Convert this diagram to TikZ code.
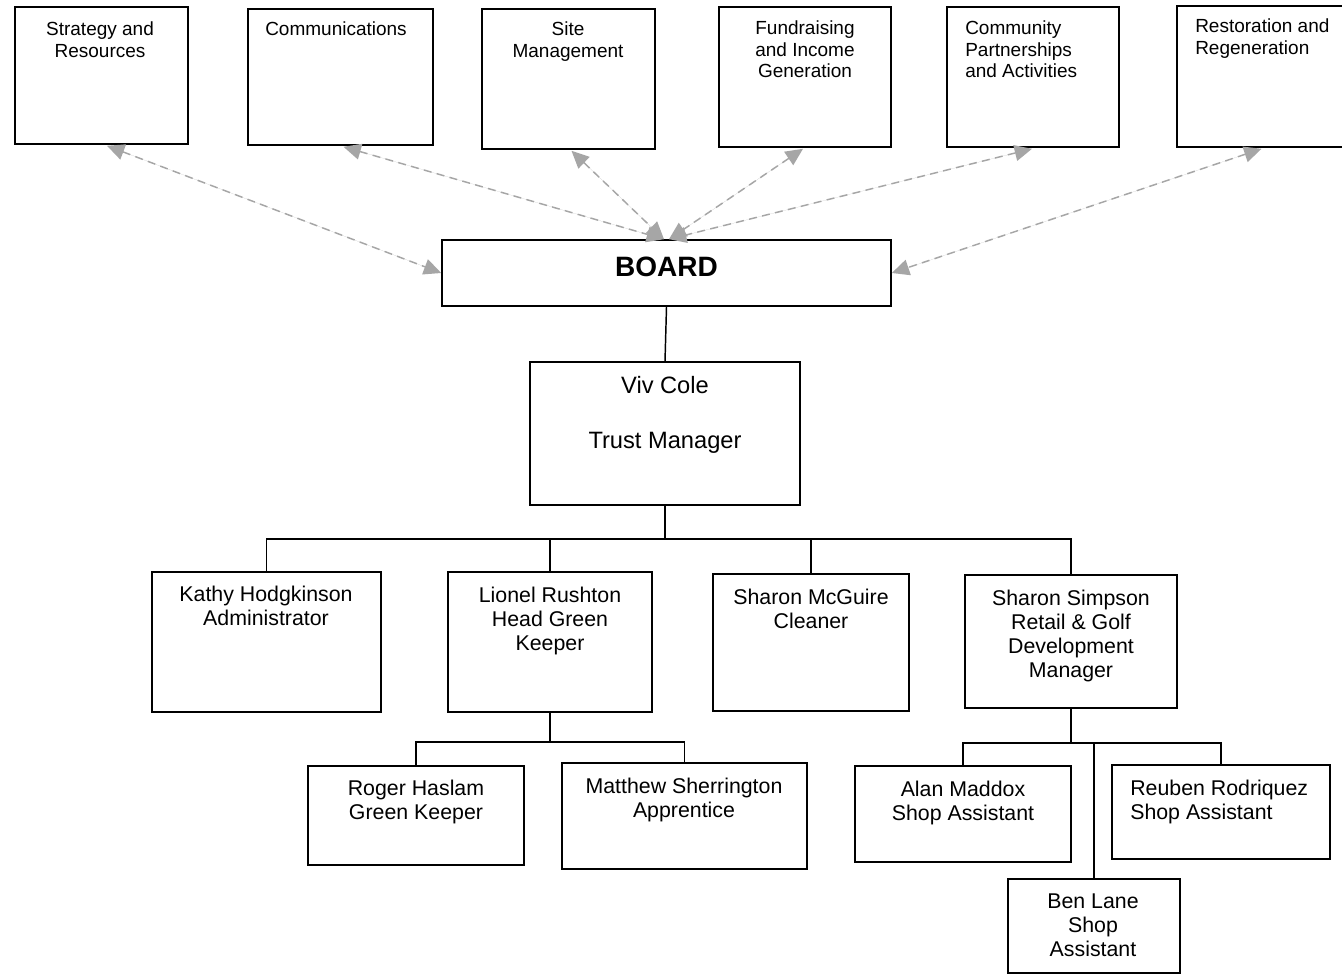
\documentclass[tikz,border=0pt]{standalone}
\usepackage{fontspec}
\setmainfont{Liberation Sans}
\usetikzlibrary{arrows.meta,fit,calc}
\definecolor{arrgray}{HTML}{A6A6A6}
\begin{document}
\begin{tikzpicture}[x=0.75pt,y=-0.75pt,
  orgbox/.style={draw=black, line width=1.2pt, inner sep=0pt, fill=white},
  link/.style={draw=black, line width=1.1pt},
  dual/.style={draw=arrgray, fill=arrgray, line width=1.1pt, dash pattern=on 6pt off 4pt,
    {Triangle[length=13pt,width=12pt]}-{Triangle[length=13pt,width=12pt]}},
  toptext/.style={font=\fontsize{14.25pt}{16.1pt}\selectfont, inner sep=0pt, align=center, anchor=north},
  topleft/.style={font=\fontsize{14.25pt}{16.1pt}\selectfont, inner sep=0pt, align=left, anchor=north west},
  rowtext/.style={font=\fontsize{16pt}{18pt}\selectfont, inner sep=0pt, align=center, anchor=north},
  rowleft/.style={font=\fontsize{16pt}{18pt}\selectfont, inner sep=0pt, align=left, anchor=north west},
  vivtext/.style={font=\fontsize{17.75pt}{41.25pt}\selectfont, inner sep=0pt, align=center, anchor=north},
  boardtext/.style={font=\fontsize{21pt}{25pt}\selectfont\bfseries, inner sep=0pt, anchor=base}
]
\useasboundingbox (0,0) rectangle (1342,977);
\fill[white] (0,0) rectangle (1342,977);

% top row boxes
\node[orgbox, fit={(15,7) (188,144)}] (strat) {};
\node[orgbox, fit={(248,9) (433,145)}] (comm) {};
\node[orgbox, fit={(482,9) (655,149)}] (site) {};
\node[orgbox, fit={(719,7) (891,147)}] (fund) {};
\node[orgbox, fit={(947,7) (1119,147)}] (commun) {};
\node[orgbox, fit={(1177,6) (1346,147)}] (resto) {};

\node[toptext] (stratT) at (100,21.9) {Strategy and\\Resources};
\node[toptext] (commT) at (336,21.9) {Communications};
\node[toptext] (siteT) at (568,21.9) {Site\\Management};
\node[toptext] (fundT) at (805,20.9) {Fundraising\\and Income\\Generation};
\node[topleft] (communT) at (965,20.9) {Community\\Partnerships\\and Activities};
\node[topleft] (restoT) at (1195,18.9) {Restoration and\\Regeneration};

% board and manager
\node[orgbox, fit={(442,240) (891,306)}] (board) {};
\node[boardtext] (boardT) at (666.5,276) {BOARD};
\node[orgbox, fit={(530,362) (800,505)}] (viv) {};
\node[vivtext] (vivT) at (665,376) {Viv Cole\\Trust Manager};

% second row
\node[orgbox, fit={(152,572) (381,712)}] (kathy) {};
\node[orgbox, fit={(448,572) (652,712)}] (lionel) {};
\node[orgbox, fit={(713,574) (909,711)}] (mcg) {};
\node[orgbox, fit={(965,575) (1177,708)}] (simpson) {};
\node[rowtext] (kathyT) at (266,586.2) {Kathy Hodgkinson\\Administrator};
\node[rowtext] (lionelT) at (550,587.2) {Lionel Rushton\\Head Green\\Keeper};
\node[rowtext] (mcgT) at (811,589.2) {Sharon McGuire\\Cleaner};
\node[rowtext] (simpsonT) at (1071,590.2) {Sharon Simpson\\Retail \& Golf\\Development\\Manager};

% third row
\node[orgbox, fit={(308,766) (524,865)}] (roger) {};
\node[orgbox, fit={(562,763) (807,869)}] (matthew) {};
\node[orgbox, fit={(855,766) (1071,862)}] (alan) {};
\node[orgbox, fit={(1112,765) (1330,859)}] (reuben) {};
\node[orgbox, fit={(1008,879) (1180,973)}] (ben) {};
\node[rowtext] (rogerT) at (416,780.2) {Roger Haslam\\Green Keeper};
\node[rowtext] (matthewT) at (684,778.2) {Matthew Sherrington\\Apprentice};
\node[rowtext] (alanT) at (963,781.2) {Alan Maddox\\Shop Assistant};
\node[rowleft] (reubenT) at (1130,780.2) {Reuben Rodriquez\\Shop Assistant};
\node[rowtext] (benT) at (1093,893.2) {Ben Lane\\Shop\\Assistant};

% dashed two-way arrows
\draw[dual] ($(strat.south)+(5.5,1)$) -- (board.west);
\draw[dual] ($(comm.south)+(3,1)$) -- ($(board.north)+(-2.5,0)$);
\draw[dual] ($(site.south)+(3,1)$) -- ($(board.north)+(-2.5,0)$);
\draw[dual] ($(fund.south)+(-2,1)$) -- ($(board.north)+(2.5,0)$);
\draw[dual] ($(commun.south)+(-1,1)$) -- ($(board.north)+(2.5,0)$);
\draw[dual] ($(resto.south)+(0,1)$) -- (board.east);

% solid connectors
\coordinate (bus) at (665,539);
\coordinate (bus2) at (550,742);
\coordinate (bus3) at (1071,743);

\draw[link] (board.south) -- (viv.north);
\draw[link] (viv.south) -- (bus);
\draw[link] (kathy.north) |- (bus) -| (simpson.north);
\draw[link] (lionel.north) -- (lionel.north |- bus);
\draw[link] (mcg.north) -- (mcg.north |- bus);

\draw[link] (lionel.south) -- (bus2);
\draw[link] (roger.north) |- (bus2) -| (matthew.north);

\draw[link] (simpson.south) -- (bus3);
\draw[link] (alan.north) |- (bus3) -| (reuben.north);
\draw[link] (ben.north) -- (ben.north |- bus3);
\end{tikzpicture}
\end{document}
